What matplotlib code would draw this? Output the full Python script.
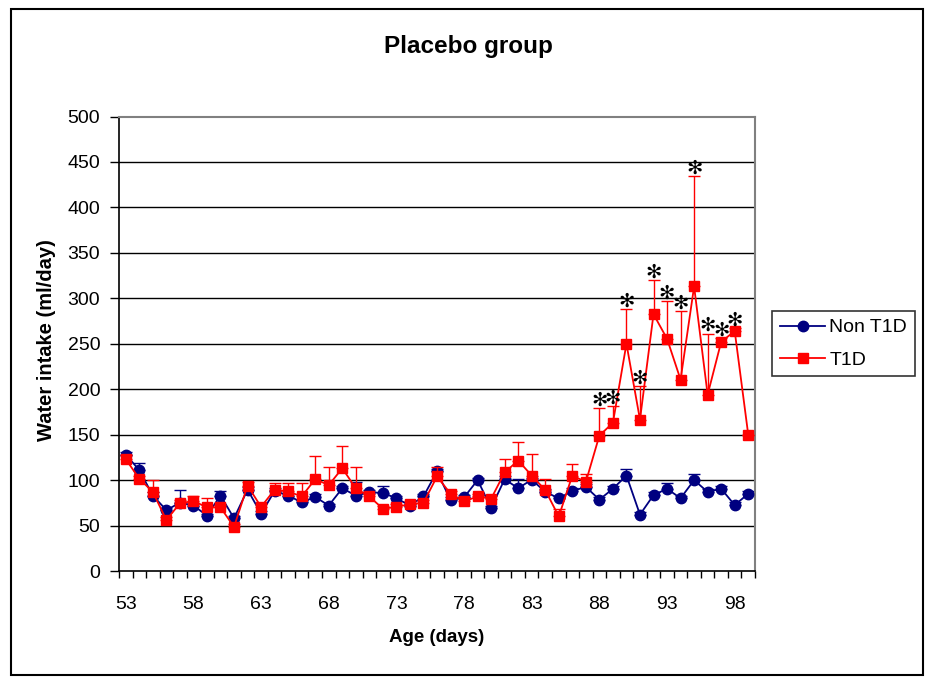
import matplotlib
matplotlib.use("Agg")
import matplotlib.pyplot as plt
from matplotlib.patches import Rectangle
from matplotlib.lines import Line2D

plt.rcParams['font.family'] = ['Liberation Sans', 'DejaVu Sans']

# Age in days (one category per day)
days = list(range(53, 100))

# Mean water intake (ml/day) and upper error (SEM) per day
non_t1d = [128, 111, 83, 67, 75, 72, 61, 83, 58, 89.5, 63, 88, 83, 75.5, 81.5,
           72, 91, 83, 86.5, 86, 80, 72, 82, 109.5, 78, 81, 100, 69.5, 101, 91,
           100.5, 87, 80, 88, 92.5, 78.5, 90.5, 105, 62, 83.5, 90.5, 80, 100,
           87, 90.5, 72.5, 85]
non_t1d_err = [3, 8, 3.5, 2, 14, 3, 2, 4.5, 2, 3, 3, 3, 3, 3, 3,
               2, 3, 15, 3, 8, 3, 2, 3, 3, 3, 3, 2, 2, 3, 10,
               2, 3, 3, 3, 3, 3, 3, 7, 3, 3, 6, 3, 7,
               3, 3, 3, 3]

t1d = [123, 101.5, 87, 56, 74.5, 77, 70, 70, 48.5, 94, 70.5, 89.5, 87.5, 82,
       101, 94.5, 113, 91, 82, 68.5, 70.5, 73.5, 75, 104, 85, 76.5, 82, 79.5,
       108.5, 121.5, 105, 89, 60, 105, 98, 149, 163, 250, 166.5, 282.5, 255.5,
       210.5, 313, 194, 252, 264, 150]
t1d_err = [5, 3, 13, 3, 4, 6, 10, 3, 3, 3.5, 3, 7.5, 9.5, 15, 26, 20, 25, 23,
           3, 3, 3, 3, 3, 10, 3, 3, 3, 3, 15, 20, 24, 12, 8, 13, 9, 30, 18, 38,
           36.5, 37.5, 41, 75, 121, 67, 4, 3, 0]

# Days with a significant difference between groups
significant_days = [88, 89, 90, 91, 92, 93, 94, 95, 96, 97, 98]

x_tick_labels = [53, 58, 63, 68, 73, 78, 83, 88, 93, 98]
y_ticks = list(range(0, 501, 50))

W, H = 932, 677
fig = plt.figure(figsize=(W / 100, H / 100), dpi=100)
fig.patch.set_facecolor('white')

# Chart border
fig.patches.append(Rectangle((11 / W, 2 / H), 912 / W, 666 / H,
                             transform=fig.transFigure, fill=False,
                             edgecolor='black', linewidth=1.5, zorder=0))

ax = fig.add_axes([119 / W, (H - 571) / H, (755 - 119) / W, (571 - 116.5) / H])

blue = '#000080'
red = '#FF0000'

# Horizontal gridlines
for yv in y_ticks[1:-1]:
    ax.axhline(yv, color='black', linewidth=1.0, zorder=1)

ax.errorbar(days, non_t1d, yerr=[[0] * len(days), non_t1d_err], fmt='none',
            ecolor=blue, elinewidth=1.0, capsize=4, capthick=1.0, zorder=2)
ax.plot(days, non_t1d, color=blue, linewidth=1.3, marker='o', markersize=7.5,
        markerfacecolor=blue, markeredgecolor=blue, zorder=3)

ax.errorbar(days, t1d, yerr=[[0] * len(days), t1d_err], fmt='none',
            ecolor=red, elinewidth=1.0, capsize=4, capthick=1.0, zorder=4)
ax.plot(days, t1d, color=red, linewidth=1.3, marker='s', markersize=7,
        markerfacecolor=red, markeredgecolor=red, zorder=5)

# Significance markers above the T1D error bars
for d in significant_days:
    i = days.index(d)
    top = t1d[i] + t1d_err[i]
    ax.annotate('\u273B', xy=(d, top), xytext=(0, 6), textcoords='offset points',
                ha='center', va='center', fontsize=14, color='black',
                family=['DejaVu Sans'], zorder=6, annotation_clip=False)

ax.set_xlim(52.5, 99.5)
ax.set_ylim(0, 500)

# Category boundaries carry the tick marks, labels sit under categories
ax.set_xticks([d - 0.5 for d in days] + [days[-1] + 0.5])
ax.set_xticklabels([])
ax.set_xticks(x_tick_labels, minor=True)
ax.set_xticklabels([str(v) for v in x_tick_labels], minor=True)
ax.tick_params(axis='x', which='major', direction='out', length=5, width=1.0,
               color='black')
ax.tick_params(axis='x', which='minor', length=0, pad=18, labelsize=14)

ax.set_yticks(y_ticks)
ax.set_yticklabels([str(v) for v in y_ticks])
ax.tick_params(axis='y', direction='out', length=6.5, width=1.0, pad=7,
               labelsize=14)

ax.spines['left'].set_color('black')
ax.spines['bottom'].set_color('black')
ax.spines['left'].set_linewidth(1.2)
ax.spines['bottom'].set_linewidth(1.2)
ax.spines['top'].set_color('#808080')
ax.spines['right'].set_color('#808080')
ax.spines['top'].set_linewidth(1.5)
ax.spines['right'].set_linewidth(1.5)

fig.text(468 / W, 1 - 46 / H, 'Placebo group', ha='center', va='center',
         fontsize=17.5, fontweight='bold')
fig.text(437 / W, 1 - 637 / H, 'Age (days)', ha='center', va='center',
         fontsize=13.5, fontweight='bold')
fig.text(47 / W, 1 - 340 / H, 'Water intake (ml/day)', ha='center',
         va='center', rotation=90, fontsize=14.5, fontweight='bold')

handles = [
    Line2D([], [], color=blue, linewidth=1.3, marker='o', markersize=7.5),
    Line2D([], [], color=red, linewidth=1.3, marker='s', markersize=7),
]
leg = fig.legend(handles, ['Non T1D', 'T1D'], loc='upper left',
                 bbox_to_anchor=(772 / W, 1 - 311 / H), borderaxespad=0,
                 fontsize=14, frameon=True, fancybox=False, numpoints=1,
                 handlelength=2.35, handletextpad=0.2, labelspacing=0.75,
                 borderpad=0.4)
leg.get_frame().set_edgecolor('black')
leg.get_frame().set_linewidth(1.2)

fig.savefig('out.png', dpi=100)
